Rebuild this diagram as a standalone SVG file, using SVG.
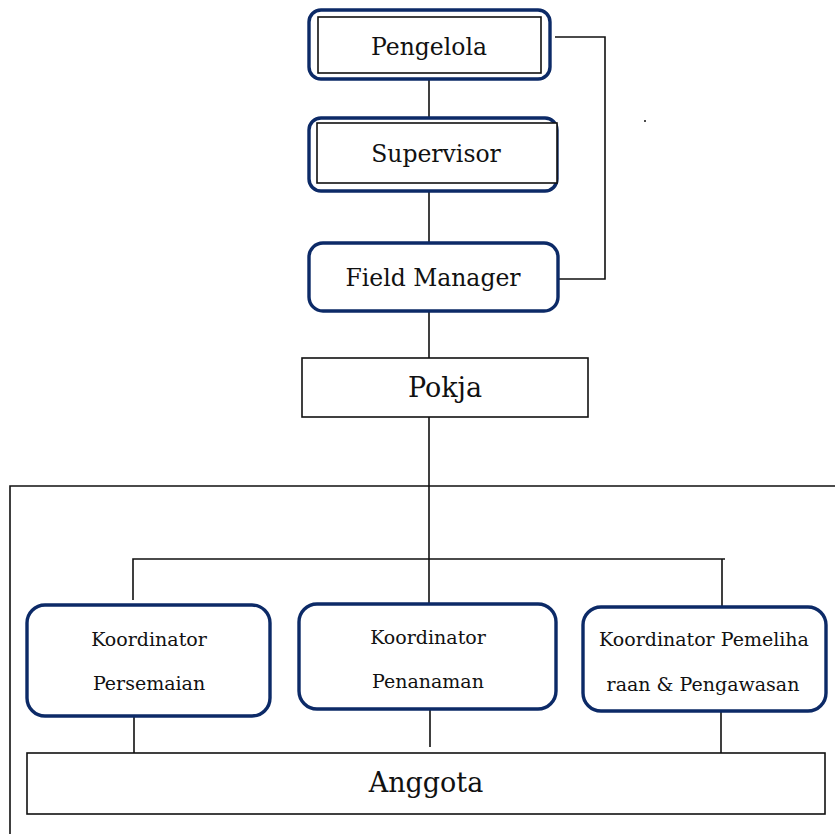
<svg xmlns="http://www.w3.org/2000/svg" width="835" height="834" viewBox="0 0 835 834">
<style>
.nv{fill:#fff;stroke:#0c2a67;stroke-width:3.4}
.bx{fill:#fff;stroke:#111;stroke-width:1.6}
.ln{fill:none;stroke:#111;stroke-width:1.6}
text{font-family:"DejaVu Serif","Liberation Serif",serif;fill:#111;text-anchor:middle}
.t1{font-size:23.5px}
.t2{font-size:27px}
.t3{font-size:19px}
</style>
<rect width="835" height="834" fill="#fff"/>
<g id="connectors">
<path class="ln" d="M10,834 V486 H835"/>
<path class="ln" d="M429,80 V118 M429,191 V243 M429,311 V358 M429,417 V605"/>
<path class="ln" d="M555,37 H605 V279 H558"/>
<path class="ln" d="M133,600 V559 H725 M722,559 V607"/>
<path class="ln" d="M134,712 V753 M430,709 V747 M721,711 V753"/>
</g>
<g id="pengelola">
<rect class="nv" x="309" y="10" width="241" height="69" rx="12"/>
<rect class="bx" x="318" y="17" width="223" height="56"/>
<text class="t1" x="429" y="55">Pengelola</text>
</g>
<g id="supervisor">
<rect class="nv" x="309" y="118" width="248" height="73" rx="12"/>
<rect class="bx" x="317" y="123" width="240" height="60"/>
<text class="t1" x="436" y="162">Supervisor</text>
</g>
<g id="field-manager">
<rect class="nv" x="309" y="243" width="249" height="68" rx="14"/>
<text class="t1" x="433" y="286">Field Manager</text>
</g>
<g id="pokja">
<rect class="bx" x="302" y="358" width="286" height="59"/>
<text class="t2" x="445" y="397">Pokja</text>
</g>
<g id="koord-persemaian">
<rect class="nv" x="27" y="605" width="243" height="111" rx="18"/>
<text class="t3" x="149" y="646">Koordinator</text>
<text class="t3" x="149" y="690">Persemaian</text>
</g>
<g id="koord-penanaman">
<rect class="nv" x="299" y="604" width="257" height="105" rx="18"/>
<text class="t3" x="428" y="644">Koordinator</text>
<text class="t3" x="428" y="688">Penanaman</text>
</g>
<g id="koord-pemeliharaan">
<rect class="nv" x="583" y="607" width="243" height="104" rx="18"/>
<text class="t3" x="704" y="646">Koordinator Pemeliha</text>
<text class="t3" x="703" y="691">raan &amp; Pengawasan</text>
</g>
<g id="anggota">
<rect class="bx" x="27" y="753" width="798" height="61"/>
<text class="t2" x="426" y="792">Anggota</text>
</g>
<circle cx="645" cy="121" r="1" fill="#111"/>
</svg>
